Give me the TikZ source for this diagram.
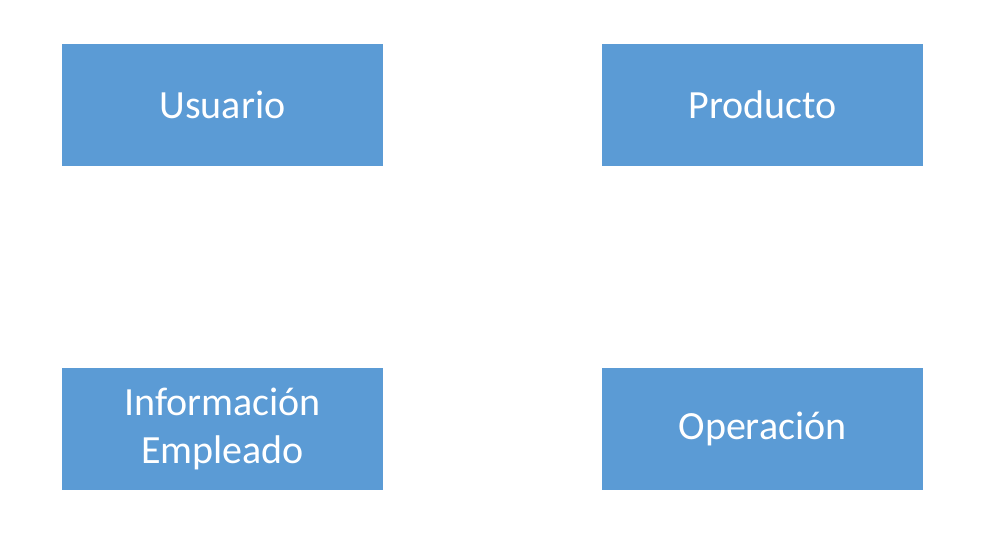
\documentclass[tikz,border=0pt]{standalone}
\usepackage{fontspec}
\setmainfont{Carlito}
\definecolor{boxblue}{HTML}{5B9BD5}
\tikzset{blbox/.style={fill=boxblue, draw=none, minimum width=321pt, minimum height=122pt, inner sep=0pt, text=white, font=\fontsize{40}{48}\selectfont, align=center}}
\begin{document}
\begin{tikzpicture}[x=1pt,y=-1pt]
\useasboundingbox (0,0) rectangle (1004,533);
\node[blbox] (usuario) at (222.5,105) {Usuario};
\node[blbox] (producto) at (762.5,105) {Producto};
\node[blbox] (info) at (222.5,429) {Información\\Empleado};
\node[blbox] (operacion) at (762.5,429) {Operación};
\end{tikzpicture}
\end{document}
